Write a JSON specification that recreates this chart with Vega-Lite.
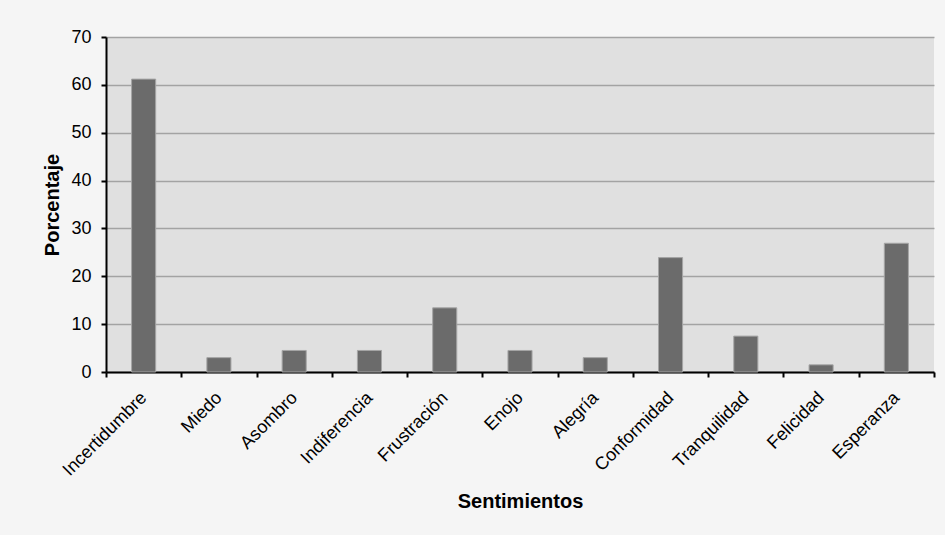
{
  "$schema": "https://vega.github.io/schema/vega-lite/v6.json",
  "width": 828,
  "height": 335,
  "autosize": {"type": "none"},
  "padding": {"left": 106, "top": 37, "right": 11, "bottom": 163},
  "background": "#f5f5f5",
  "data": {
    "values": [
      {"sentimiento": "Incertidumbre", "porcentaje": 61.2},
      {"sentimiento": "Miedo", "porcentaje": 3.0},
      {"sentimiento": "Asombro", "porcentaje": 4.5},
      {"sentimiento": "Indiferencia", "porcentaje": 4.5},
      {"sentimiento": "Frustración", "porcentaje": 13.4},
      {"sentimiento": "Enojo", "porcentaje": 4.5},
      {"sentimiento": "Alegría", "porcentaje": 3.0},
      {"sentimiento": "Conformidad", "porcentaje": 23.9},
      {"sentimiento": "Tranquilidad", "porcentaje": 7.5},
      {"sentimiento": "Felicidad", "porcentaje": 1.5},
      {"sentimiento": "Esperanza", "porcentaje": 26.9}
    ]
  },
  "mark": {
    "type": "bar",
    "width": {"band": 0.32},
    "color": "#6b6b6b",
    "stroke": "#a5a5a5",
    "strokeWidth": 1
  },
  "encoding": {
    "x": {
      "field": "sentimiento",
      "type": "nominal",
      "sort": null,
      "title": "Sentimientos",
      "scale": {"paddingInner": 0, "paddingOuter": 0},
      "axis": {
        "labelAngle": -45,
        "labelAlign": "right",
        "labelBaseline": "middle",
        "labelFontSize": 18,
        "labelPadding": 18,
        "tickBand": "extent",
        "titlePadding": 12
      }
    },
    "y": {
      "field": "porcentaje",
      "type": "quantitative",
      "title": "Porcentaje",
      "scale": {"domain": [0, 70], "nice": false},
      "axis": {
        "values": [0, 10, 20, 30, 40, 50, 60, 70],
        "labelFontSize": 18,
        "labelPadding": 10,
        "titlePadding": 8,
        "grid": true
      }
    }
  },
  "config": {
    "font": "Liberation Sans",
    "view": {"fill": "#e0e0e0", "stroke": null},
    "axis": {
      "domainColor": "#000000",
      "domainWidth": 2,
      "tickColor": "#000000",
      "tickWidth": 2,
      "tickSize": 5,
      "labelColor": "#000000",
      "labelFont": "Liberation Sans",
      "titleFont": "Liberation Sans",
      "titleFontSize": 20,
      "titleFontWeight": "bold",
      "titleColor": "#000000",
      "gridColor": "#a3a3a3",
      "gridWidth": 1.3
    }
  }
}
